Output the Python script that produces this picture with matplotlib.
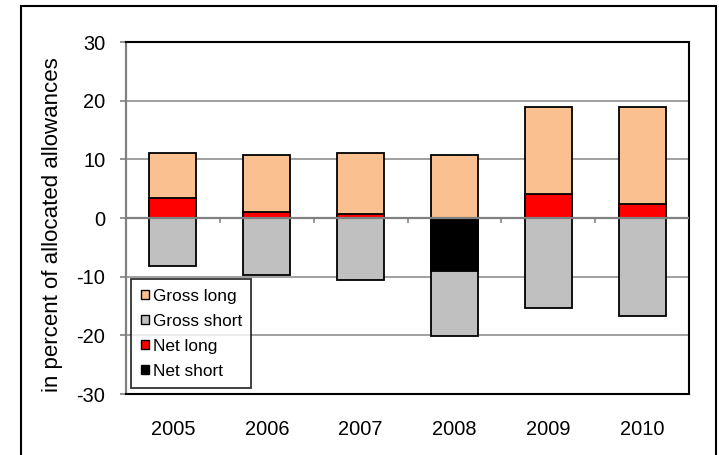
import numpy as np
import matplotlib.pyplot as plt
from matplotlib.patches import Rectangle, Patch

plt.rcParams['font.family'] = ['Liberation Sans', 'DejaVu Sans']
plt.rcParams['axes.unicode_minus'] = False

years = ['2005', '2006', '2007', '2008', '2009', '2010']
gross_long = [11.1, 10.8, 11.0, 10.8, 19.0, 19.0]
gross_short = [-8.1, -9.8, -10.6, -20.1, -15.3, -16.7]
net_long = [3.4, 1.0, 0.7, 0.0, 4.1, 2.4]
net_short = [0.0, 0.0, 0.0, -9.0, 0.0, 0.0]

fig = plt.figure(figsize=(7.19, 4.55), dpi=100)
ax = fig.add_axes([126 / 719, 61 / 455, 563 / 719, 352 / 455])

# outer chart frame (runs off the bottom edge)
fig.patches.append(Rectangle((21 / 719, -0.05), 695 / 719, 1.05 - 6 / 455,
                             transform=fig.transFigure, fill=False,
                             edgecolor='black', linewidth=1.5))

x = np.arange(len(years))
w = 0.5
kw = dict(width=w, edgecolor='black', linewidth=1.3)
# gross bars first, net bars overlap on top of them
ax.bar(x, gross_long, color='#FAC090', zorder=2, **kw)
ax.bar(x, gross_short, color='#C0C0C0', zorder=2, **kw)
for i in range(len(years)):
    if net_long[i]:
        ax.bar(x[i], net_long[i], color='#FF0000', zorder=3, **kw)
    if net_short[i]:
        ax.bar(x[i], net_short[i], color='#000000', zorder=3, **kw)

ax.set_xlim(-0.5, len(years) - 0.5)
ax.set_ylim(-30, 30)
ax.set_yticks(range(-30, 31, 10))
ax.tick_params(axis='y', labelsize=14.4, length=4.3, width=1.2,
               color='#808080', pad=10.5)
for v in [-20, -10, 10, 20]:
    ax.axhline(v, color='#999999', linewidth=1.3, zorder=1)
ax.axhline(0, color='#808080', linewidth=1.6, zorder=4)

# category separator ticks hanging below the zero line
for b in np.arange(0.5, len(years) - 0.5, 1.0):
    ax.plot([b, b], [0, -0.7], color='#808080', linewidth=1.2, zorder=4)

ax.set_xticks(x)
ax.set_xticklabels(years)
ax.tick_params(axis='x', labelsize=14.4, length=0, pad=19)

for s in ['top', 'right', 'bottom']:
    ax.spines[s].set_color('black')
    ax.spines[s].set_linewidth(1.5)
ax.spines['left'].set_color('#808080')
ax.spines['left'].set_linewidth(1.6)

ax.set_ylabel('in percent of allocated allowances', fontsize=16)
ax.yaxis.set_label_coords(-63 / 563, 0.48)

handles = [Patch(facecolor='#FAC090', edgecolor='black', label='Gross long'),
           Patch(facecolor='#C0C0C0', edgecolor='black', label='Gross short'),
           Patch(facecolor='#FF0000', edgecolor='black', label='Net long'),
           Patch(facecolor='#000000', edgecolor='black', label='Net short')]
leg = ax.legend(handles=handles, loc='lower left', bbox_to_anchor=(0.009, 0.017),
                fontsize=12.4, frameon=True, fancybox=False, handlelength=0.5,
                handleheight=0.5, handletextpad=0.2, labelspacing=0.58,
                borderpad=0.55, borderaxespad=0)
leg.get_frame().set_edgecolor('black')
leg.get_frame().set_linewidth(1.3)
leg.set_zorder(5)

fig.savefig('out.png', dpi=100)
